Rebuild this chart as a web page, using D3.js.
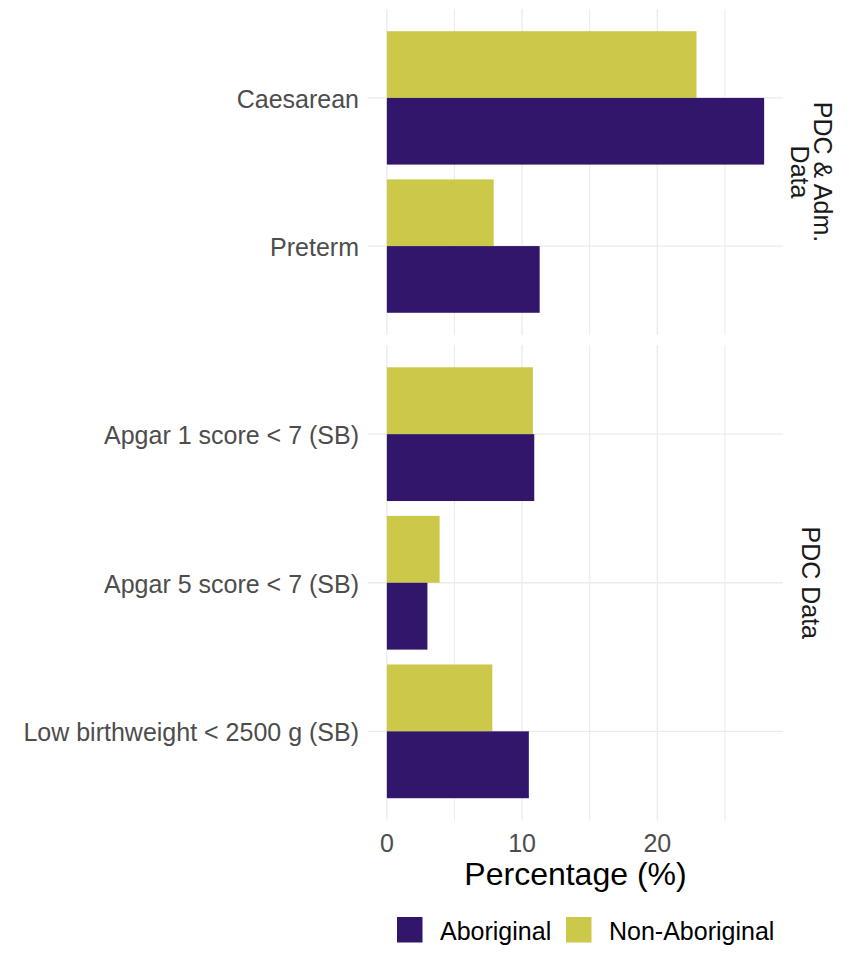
<!DOCTYPE html>
<html>
<head>
<meta charset="utf-8">
<script src="https://cdn.jsdelivr.net/npm/d3@7"></script>
<style>
  html, body { margin: 0; padding: 0; background: #fff; }
  svg { display: block; font-family: "Liberation Sans", Arial, sans-serif; }
</style>
</head>
<body>
<svg id="chart" width="859" height="958"></svg>
<script>
// ---- data ----
const panels = ["PDC & Adm.\nData", "PDC Data"];
const panel1Categories = ["Caesarean", "Preterm"];
const panel2Categories = ["Apgar 1 score < 7 (SB)", "Apgar 5 score < 7 (SB)", "Low birthweight < 2500 g (SB)"];
const groups = ["Non-Aboriginal", "Aboriginal"]; // top to bottom within a category
const legendGroups = ["Aboriginal", "Non-Aboriginal"];
const aboriginalValues = [27.9, 11.3, 10.9, 3.0, 10.5];
const nonAboriginalValues = [22.9, 7.9, 10.8, 3.9, 7.8];
const xTicks = [0, 10, 20];
const xMinorTicks = [5, 15, 25];
const colors = { "Aboriginal": "#31166b", "Non-Aboriginal": "#cbc84a" };

const allCats = panel1Categories.concat(panel2Categories);
const rows = allCats.map((c, i) => ({
  category: c,
  panel: i < panel1Categories.length ? 0 : 1,
  "Aboriginal": aboriginalValues[i],
  "Non-Aboriginal": nonAboriginalValues[i]
}));

const svg = d3.select("#chart");
const left = 368, right = 783;
const maxV = d3.max(aboriginalValues.concat(nonAboriginalValues));
const x = d3.scaleLinear().domain([-0.05 * maxV, maxV * 1.05]).range([left, right]);

const panelDefs = [
  { cats: panel1Categories, top: 9, bottom: 335, label: panels[0] },
  { cats: panel2Categories, top: 345, bottom: 820.5, label: panels[1] }
];

const textGray = "#4d4d4d";
const grid = "#ebebeb";
const fs = 25;

panelDefs.forEach((p, pi) => {
  const y = d3.scaleBand().domain(p.cats).range([p.top, p.bottom]).paddingInner(0).paddingOuter(0.1);
  const step = y.step();
  const sub = d3.scaleBand().domain(groups).range([0, 0.9 * step]);
  const g = svg.append("g");

  g.selectAll(".minor").data(xMinorTicks).join("line")
    .attr("x1", d => x(d)).attr("x2", d => x(d))
    .attr("y1", p.top).attr("y2", p.bottom)
    .attr("stroke", grid).attr("stroke-width", 1.1);
  g.selectAll(".major").data(xTicks).join("line")
    .attr("x1", d => x(d)).attr("x2", d => x(d))
    .attr("y1", p.top).attr("y2", p.bottom)
    .attr("stroke", grid).attr("stroke-width", 1.3);
  g.selectAll(".hgrid").data(p.cats).join("line")
    .attr("x1", left).attr("x2", right)
    .attr("y1", d => y(d) + step / 2).attr("y2", d => y(d) + step / 2)
    .attr("stroke", grid).attr("stroke-width", 1.3);

  const pr = rows.filter(r => r.panel === pi);
  pr.forEach(r => {
    const y0 = y(r.category) + 0.05 * step;
    groups.forEach(gr => {
      g.append("rect")
        .attr("x", x(0))
        .attr("y", y0 + sub(gr))
        .attr("width", x(r[gr]) - x(0))
        .attr("height", sub.bandwidth())
        .attr("fill", colors[gr]);
    });
  });

  g.selectAll(".ylab").data(p.cats).join("text")
    .attr("x", 359)
    .attr("y", d => y(d) + step / 2 + 1)
    .attr("dy", "0.35em")
    .attr("text-anchor", "end")
    .attr("fill", textGray)
    .attr("font-size", fs)
    .text(d => d);

  const lines = p.label.split("\n");
  const cy = (p.top + p.bottom) / 2;
  const lh = 23;
  const cx = 811 + (lines.length - 1) * lh / 2;
  const st = svg.append("text")
    .attr("transform", `translate(${cx},${cy}) rotate(90)`)
    .attr("text-anchor", "middle")
    .attr("fill", "#1a1a1a")
    .attr("font-size", fs);
  lines.forEach((l, i) => {
    st.append("tspan").attr("x", 0).attr("y", i * lh).attr("dy", "0.35em").text(l);
  });
});

svg.selectAll(".xt").data(xTicks).join("text")
  .attr("x", d => x(d))
  .attr("y", 843)
  .attr("dy", "0.35em")
  .attr("text-anchor", "middle")
  .attr("fill", textGray)
  .attr("font-size", fs)
  .text(d => d);

svg.append("text")
  .attr("x", (left + right) / 2)
  .attr("y", 874)
  .attr("dy", "0.35em")
  .attr("text-anchor", "middle")
  .attr("fill", "#000")
  .attr("font-size", 32)
  .text("Percentage (%)");

const legendX = [397, 566];
legendGroups.forEach((gname, i) => {
  svg.append("rect")
    .attr("x", legendX[i]).attr("y", 917)
    .attr("width", 25.5).attr("height", 25.5)
    .attr("fill", colors[gname]);
  svg.append("text")
    .attr("x", legendX[i] + 43)
    .attr("y", 931)
    .attr("dy", "0.35em")
    .attr("fill", "#000")
    .attr("font-size", fs)
    .text(gname);
});
</script>
</body>
</html>
